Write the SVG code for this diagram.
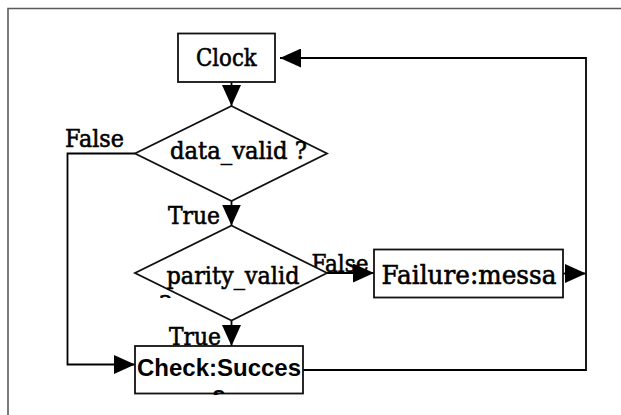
<svg xmlns="http://www.w3.org/2000/svg" width="621" height="415" viewBox="0 0 621 415">
  <defs>
    <marker id="ah" viewBox="0 0 21 19" refX="21" refY="9.5" markerWidth="21" markerHeight="19" markerUnits="userSpaceOnUse" orient="auto">
      <path d="M0,0 L21,9.5 L0,19 Z" fill="#000"/>
    </marker>
    <clipPath id="clipParity"><rect x="135" y="226" width="192" height="72"/></clipPath>
    <clipPath id="clipCheck"><rect x="135" y="346" width="168" height="49"/></clipPath>
    <clipPath id="clipFail"><rect x="376" y="250" width="182" height="46"/></clipPath>
  </defs>
  <style>
    .frame { fill: none; stroke: #5a5a5a; stroke-width: 1.6; }
    .shape { fill: #fff; stroke: #111; stroke-width: 1.8; }
    .edge { fill: none; stroke: #000; stroke-width: 1.8; marker-end: url(#ah); }
    .serif { font-family: "DejaVu Serif", "Liberation Serif", serif; font-size: 24px; fill: #000; stroke: #000; stroke-width: 0.6; }
    .big { font-size: 26px; }
    .sans { font-family: "Liberation Sans", Arial, sans-serif; font-weight: bold; font-size: 24px; fill: #000; }
  </style>

  <!-- page frame -->
  <path class="frame" d="M8,415 V8.5 H621"/>

  <!-- connectors -->
  <g id="connectors">
    <path class="edge" d="M231.5,82 V106"/>
    <path class="edge" d="M231.5,201 V225.5"/>
    <path class="edge" d="M231.5,320.5 V346"/>
    <path class="edge" d="M327,273 H374"/>
    <path class="edge" d="M563,273.5 H586"/>
    <path class="edge" d="M303,370 H586 V58 H280"/>
    <path class="edge" d="M135,153.5 H67.5 V364.5 H135"/>
  </g>

  <!-- edge labels -->
  <g id="labels">
    <text class="serif" x="65" y="147" textLength="59" lengthAdjust="spacingAndGlyphs">False</text>
    <text class="serif" x="168" y="223.5" textLength="52" lengthAdjust="spacingAndGlyphs">True</text>
    <text class="serif" x="169" y="345" textLength="52" lengthAdjust="spacingAndGlyphs">True</text>
    <text class="serif" x="311.5" y="271.5" textLength="57" lengthAdjust="spacingAndGlyphs">False</text>
  </g>

  <g id="clock">
    <rect class="shape" x="178" y="33.5" width="97" height="48.5"/>
    <text class="serif" x="196" y="65.7" textLength="60.7" lengthAdjust="spacingAndGlyphs">Clock</text>
  </g>

  <g id="data_valid">
    <polygon class="shape" points="231.5,106 327,153.5 231.5,201 135,153.5"/>
    <text class="serif" x="170" y="159.3" textLength="137" lengthAdjust="spacingAndGlyphs">data_valid ?</text>
  </g>

  <g id="parity_valid">
    <polygon class="shape" points="231.5,225.5 327,273 231.5,320.5 135,273"/>
    <g clip-path="url(#clipParity)">
      <text class="serif" x="166.5" y="283.5" textLength="133" lengthAdjust="spacingAndGlyphs">parity_valid</text>
      <text class="serif" x="159" y="313">?</text>
    </g>
  </g>

  <g id="failure">
    <rect class="shape" x="374" y="249.5" width="189" height="48"/>
    <text class="serif big" x="381.5" y="284.3" textLength="175" lengthAdjust="spacingAndGlyphs" clip-path="url(#clipFail)">Failure:messa</text>
  </g>

  <g id="check">
    <rect class="shape" x="135" y="346" width="168" height="47.5"/>
    <g clip-path="url(#clipCheck)">
      <text class="sans" x="219" y="375.5" text-anchor="middle">Check:Succes</text>
      <text class="sans" x="219" y="403" text-anchor="middle">s</text>
    </g>
  </g>
</svg>
